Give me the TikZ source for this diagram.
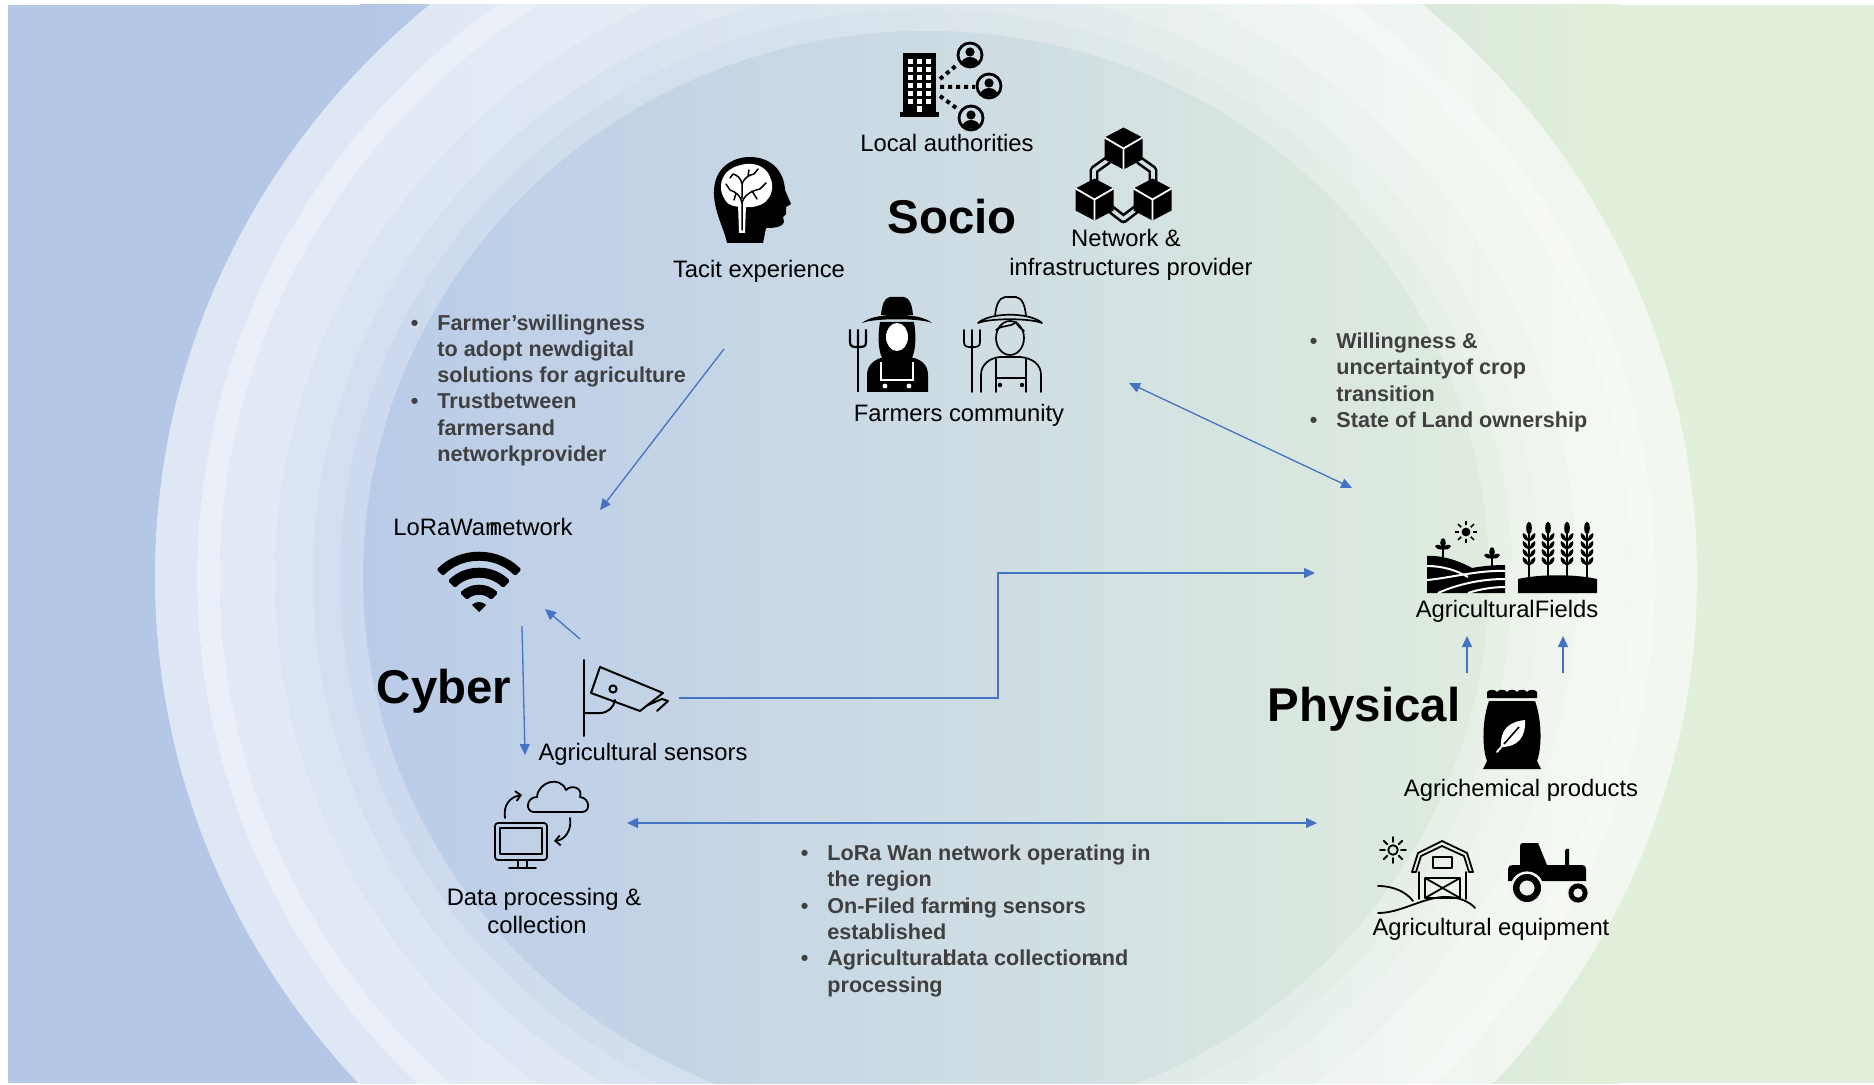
\documentclass[tikz,border=0pt]{standalone}
\usepackage{fontspec}
\setmainfont{Liberation Sans}
\usetikzlibrary{arrows.meta,calc}
\definecolor{bgblue}{HTML}{B4C7E7}
\definecolor{bggreen}{HTML}{E2EFDA}
\definecolor{linkblue}{HTML}{4472C4}
\definecolor{notegray}{HTML}{404040}
\definecolor{pipebg}{HTML}{D3E1E2}
\definecolor{wheelbg}{HTML}{EEF4EC}
\newcommand\notebullet{\llap{\textbullet\hspace{9.5pt}}}
% isometric block: centre x, centre y
\newcommand\netcube[2]{%
  \fill (#1,#2-21) -- (#1+19,#2-11) -- (#1+19,#2+11) -- (#1,#2+21) -- (#1-19,#2+11) -- (#1-19,#2-11) -- cycle;
  \draw[white,line width=0.9pt] (#1-19,#2-11) -- (#1,#2) -- (#1+19,#2-11) (#1,#2) -- (#1,#2+21);}
% small person badge: centre x, centre y
\newcommand\personbadge[2]{%
  \draw[line width=1.4pt] (#1,#2) circle[radius=6pt];
  \fill (#1,#2-3) circle[radius=2.3pt];
  \begin{scope}\clip (#1,#2) circle[radius=5.4pt];
  \fill (#1,#2+10) ellipse[x radius=4.6pt,y radius=4pt];\end{scope}}
% sprout: x, base y, top y
\newcommand\sprout[3]{%
  \draw[line width=0.9pt] (#1,#2) -- (#1,#3);
  \fill (#1,#3+3) .. controls (#1-2,#3-2) and (#1-6,#3-2) .. (#1-8,#3) .. controls (#1-6,#3+4) and (#1-2,#3+4) .. cycle;
  \fill (#1,#3+3) .. controls (#1+2,#3-2) and (#1+6,#3-2) .. (#1+8,#3) .. controls (#1+6,#3+4) and (#1+2,#3+4) .. cycle;
  \fill (#1,#3-3) ellipse[x radius=1.4pt,y radius=2.4pt];}
\begin{document}
\begin{tikzpicture}[x=0.5pt,y=-0.5pt,
  lbl/.style={font=\fontsize{11.9pt}{14.5pt}\selectfont,inner sep=0pt,anchor=base},
  ttl/.style={font=\fontsize{23.7pt}{28pt}\selectfont\bfseries,inner sep=0pt,anchor=base},
  note/.style={font=\fontsize{10.8pt}{13.15pt}\selectfont\bfseries,text=notegray,inner sep=0pt,align=left,anchor=base west},
  link/.style={draw=linkblue,line width=0.65pt,-{Triangle[length=5.5pt,width=5pt]}},
  dlink/.style={draw=linkblue,line width=0.65pt,{Triangle[length=5.5pt,width=5pt]}-{Triangle[length=5.5pt,width=5pt]}},
  icon/.style={line width=0.9pt,line cap=round,line join=round}]
\useasboundingbox (0,0) rectangle (1874,1085);
% ---------- background ----------
\fill[white] (0,0) rectangle (1874,1085);
\fill[bgblue] (8,5) rectangle (1874,1083);
\shade[left color=bgblue,right color=bggreen] (360,5) rectangle (1620,1083);
\fill[bggreen] (1619,5) rectangle (1874,1083);
\begin{scope}
\clip (8,5) rectangle (1874,1083);
\fill[white,fill opacity=0.58,even odd rule] (926,577) ellipse[x radius=385.5pt,y radius=374pt] (926,577) ellipse[x radius=364.5pt,y radius=353.6pt];
\fill[white,fill opacity=0.72,even odd rule] (926,577) ellipse[x radius=364.5pt,y radius=353.6pt] (926,577) ellipse[x radius=353pt,y radius=342.4pt];
\fill[white,fill opacity=0.62,even odd rule] (926,577) ellipse[x radius=353pt,y radius=342.4pt] (926,577) ellipse[x radius=325.5pt,y radius=315.7pt];
\fill[white,fill opacity=0.52,even odd rule] (926,577) ellipse[x radius=325.5pt,y radius=315.7pt] (926,577) ellipse[x radius=306.5pt,y radius=297.3pt];
\fill[white,fill opacity=0.42,even odd rule] (926,577) ellipse[x radius=306.5pt,y radius=297.3pt] (926,577) ellipse[x radius=293pt,y radius=284.2pt];
\fill[white,fill opacity=0.32,even odd rule] (926,577) ellipse[x radius=293pt,y radius=284.2pt] (926,577) ellipse[x radius=281.5pt,y radius=273.1pt];
\fill[white,fill opacity=0.08] (926,577) ellipse[x radius=281.5pt,y radius=273.1pt];
\end{scope}

% ---------- Socio: local authorities ----------
\fill (903,53) rectangle (936,117);
\fill (900,112) rectangle (939,117);
\foreach \cx in {908,917,926}{\foreach \cy in {59,67,75,83,91,99}{\fill[white] (\cx,\cy) rectangle ++(5,5);}}
\fill[white] (917,106) rectangle (922,112);
\draw[line width=2pt,dash pattern=on 2pt off 2pt] (940,79) -- (958,64) (940,87) -- (975,87) (940,96) -- (959,110);
\personbadge{970}{55}
\personbadge{989}{86}
\personbadge{971}{118}

% ---------- Socio: tacit experience (head with brain) ----------
\fill (727,243) .. controls (724,228) and (713,210) .. (714,190) .. controls (715,168) and (732,157) .. (750,157)
  .. controls (770,157) and (784,170) .. (785,190) -- (791,204) -- (786,207) -- (786,214) -- (783,217) -- (784,222)
  .. controls (783,227) and (775,228) .. (766,228) -- (763,243) -- cycle;
\fill[white] plot[smooth cycle,tension=0.75] coordinates {(721,187) (724,176) (731,169) (741,165) (752,164) (763,168) (770,177) (772,189) (767,200) (757,206) (744,207) (731,205) (724,198)};
\fill[white] (738,204) -- (746,204) -- (745,233) -- (739,233) -- cycle;
\draw[line width=0.75pt,line cap=round,line join=round] (742,230) -- (742,203) .. controls (741,196) and (736,192) .. (730,190)
  (742,203) .. controls (744,195) and (751,191) .. (760,189) (742,198) -- (742,184) .. controls (741,178) and (737,175) .. (733,174)
  (742,184) .. controls (744,178) and (749,175) .. (754,174) (736,193) -- (734,200) (730,190) -- (726,184)
  (752,191) -- (757,199) (760,189) -- (766,183) (754,174) -- (758,169) (733,174) -- (730,178) (748,176) -- (749,170);

% ---------- Socio: network & infrastructure provider ----------
\draw[line width=1.3pt,double=pipebg,double distance=1.8pt,line join=round]
  (1108,160) -- (1094,170) -- (1094,186) (1139,160) -- (1153,170) -- (1153,186) (1108,207) -- (1123.5,219) -- (1139,207);
\netcube{1123.5}{148.5}
\netcube{1094.5}{199.5}
\netcube{1152.5}{199.5}

% ---------- Socio: farmers community ----------
% black farmer
\draw[line width=1.3pt] (858,346) -- (858,392);
\draw[line width=1.1pt,line cap=round] (850,330) -- (850,342) .. controls (850,347) and (853,347) .. (858,347) .. controls (863,347) and (866,347) .. (866,342) -- (866,330) (858,330) -- (858,347);
\fill (867,392) -- (867,375) .. controls (867,364) and (876,358) .. (886,357) -- (908,357) .. controls (920,358) and (928,364) .. (928,375) -- (928,392) -- cycle;
\draw[white,line width=0.8pt] (881,362) -- (881,380) -- (913,380) -- (913,362);
\fill[white] (885,386) circle[radius=1.2pt] (909,386) circle[radius=1.2pt];
\fill (880,322) .. controls (877,340) and (879,355) .. (884,361) -- (910,361) .. controls (915,355) and (917,340) .. (914,322) -- cycle;
\fill[white] (897,337) ellipse[x radius=5.5pt,y radius=7pt];
\fill (881,315) .. controls (882,305) and (884,298) .. (890,297) -- (904,297) .. controls (910,298) and (912,305) .. (913,315) -- cycle;
\fill (862,323) .. controls (874,312) and (920,312) .. (932,323) .. controls (920,318) and (874,318) .. cycle;
% outlined farmer
\begin{scope}[icon,line width=0.85pt]
\draw (972,346) -- (972,392);
\draw (964,330) -- (964,342) .. controls (964,347) and (967,347) .. (972,347) .. controls (977,347) and (980,347) .. (980,342) -- (980,330) (972,330) -- (972,347);
\draw (981,392) -- (981,375) .. controls (981,364) and (990,358) .. (1000,357) -- (1020,357) .. controls (1032,358) and (1041,364) .. (1041,375) -- (1041,392);
\draw (996,392) -- (996,378) -- (1026,378) -- (1026,392) (996,378) -- (996,359) (1026,378) -- (1026,359);
\fill (1000,385) circle[radius=1.1pt] (1022,385) circle[radius=1.1pt];
\draw (1010,338) ellipse[x radius=7pt,y radius=8.5pt];
\draw (996,330) .. controls (1003,324) and (1010,328) .. (1016,322) .. controls (1018,327) and (1022,329) .. (1024,331);
\draw (995,316) .. controls (996,305) and (999,298) .. (1005,297) -- (1016,297) .. controls (1022,298) and (1025,305) .. (1026,316);
\draw (978,323) .. controls (990,312) and (1030,312) .. (1042,323) .. controls (1030,318) and (990,318) .. cycle;
\end{scope}

% ---------- Cyber: LoRaWAN (wifi) ----------
\coordinate (wf) at (479,612);
\fill (wf) -- ($(wf)+(45:5pt)$) arc[start angle=45,end angle=135,radius=5pt] -- cycle;
\foreach \ro/\ri in {13.5/8.5,22/17,30/25.5}{
  \fill[rounded corners=0.8pt] ($(wf)+(45:\ro pt)$) arc[start angle=45,end angle=135,radius=\ro pt] -- ($(wf)+(135:\ri pt)$) arc[start angle=135,end angle=45,radius=\ri pt] -- cycle;}

% ---------- Cyber: agricultural sensor (camera) ----------
\begin{scope}[icon,line width=1pt]
\draw (584,660) -- (584,736);
\draw (600,667) -- (663,693) -- (640,711) -- (591,693) -- cycle;
\draw (648,705) -- (662,699) -- (668,701) -- (657,711);
\draw (613,689) circle[radius=1.8pt];
\draw (584,713) -- (600,713) .. controls (608,713) and (614,707) .. (615,700);
\end{scope}

% ---------- Cyber: data processing & collection ----------
\begin{scope}[icon]
\draw (534,812) .. controls (525,812) and (526,797) .. (537,797) .. controls (538,782) and (560,775) .. (566,790)
  .. controls (572,784) and (583,788) .. (580,797) .. controls (590,798) and (591,812) .. (582,812) -- cycle;
\draw[rounded corners=1.5pt] (495,823) rectangle (547,860);
\draw (500,828) rectangle (542,854);
\draw (518,860) -- (518,868) (527,860) -- (527,868) (509,868) -- (536,868);
\draw[-{Straight Barb[length=2.5pt,width=5pt]}] (505,818) .. controls (503,805) and (510,797) .. (522,795);
\draw[-{Straight Barb[length=2.5pt,width=5pt]}] (570,818) .. controls (572,830) and (565,840) .. (554,841);
\end{scope}

% ---------- Physical: agricultural fields ----------
\fill (1466,532) circle[radius=2.2pt];
\foreach \a in {0,45,...,315}{\draw[line width=0.8pt] ($(1466,532)+(\a:3.4pt)$) -- ($(1466,532)+(\a:5.6pt)$);}
\sprout{1443}{557}{546}
\sprout{1492}{566}{555}
\fill (1427,556) .. controls (1440,555) and (1458,560) .. (1472,568) .. controls (1482,566) and (1495,565) .. (1505,565) -- (1505,593) -- (1427,593) -- cycle;
\draw[white,line width=1pt] (1427,566) .. controls (1442,566) and (1456,570) .. (1468,577)
  (1427,580) .. controls (1450,578) and (1478,570) .. (1505,571)
  (1438,593) .. controls (1458,584) and (1482,579) .. (1505,579)
  (1468,593) .. controls (1480,589) and (1494,587) .. (1505,587);
\fill (1518,593) -- (1518,579) .. controls (1540,574) and (1575,574) .. (1597,579) -- (1597,593) -- cycle;
\foreach \wx in {1529,1548,1567,1587}{
  \draw[line width=0.9pt] (\wx,578) -- (\wx,530);
  \fill (\wx,528) ellipse[x radius=1.4pt,y radius=3.2pt];
  \foreach \wy in {539,547,555,563}{
    \fill (\wx-1,\wy+2) .. controls (\wx-6,\wy+1) and (\wx-7,\wy-4) .. (\wx-6,\wy-6) .. controls (\wx-2,\wy-4) and (\wx-1,\wy-2) .. cycle;
    \fill (\wx+1,\wy+2) .. controls (\wx+6,\wy+1) and (\wx+7,\wy-4) .. (\wx+6,\wy-6) .. controls (\wx+2,\wy-4) and (\wx+1,\wy-2) .. cycle;}}

% ---------- Physical: agrichemical products (bag) ----------
\fill (1487,698) -- (1487,692) \foreach \k in {0,...,4}{ .. controls (1489+10*\k,689) and (1495+10*\k,689) .. (1497+10*\k,692)} -- (1537,698) -- cycle;
\fill (1489,701) -- (1535,701) .. controls (1542,720) and (1542,748) .. (1537,761) -- (1541,769) -- (1483,769) -- (1487,761) .. controls (1482,748) and (1482,720) .. (1489,701) -- cycle;
\fill[white] (1501,747) .. controls (1500,730) and (1508,722) .. (1525,720) .. controls (1526,737) and (1518,747) .. (1501,747) -- cycle;
\draw[line width=0.8pt] (1504,744) -- (1519,727);
\draw[white,line width=0.9pt,line cap=round] (1497,752) -- (1503,745);

% ---------- Physical: agricultural equipment (barn, tractor) ----------
\begin{scope}[icon]
\draw (1393,850) circle[radius=2.4pt];
\foreach \a in {0,45,...,315}{\draw ($(1393,850)+(\a:4pt)$) -- ($(1393,850)+(\a:6.5pt)$);}
\draw (1412,872) -- (1418,853) -- (1442,841) -- (1467,853) -- (1473,872) -- (1469,872) -- (1464,856) -- (1442,846) -- (1421,856) -- (1416,872) -- cycle;
\draw (1419,872) -- (1419,899) (1466,872) -- (1466,899);
\draw (1433,857) rectangle (1452,868);
\draw (1425,878) rectangle (1460,898) (1425,878) -- (1460,898) (1425,898) -- (1460,878);
\draw (1378,886) .. controls (1395,886) and (1407,893) .. (1413,901);
\draw (1378,913) .. controls (1400,913) and (1420,899) .. (1442,897) .. controls (1458,896) and (1470,902) .. (1475,908);
\end{scope}
\fill (1508,881) -- (1508,869) .. controls (1508,866) and (1510,865) .. (1513,865) -- (1520,865) -- (1520,846) .. controls (1520,844) and (1521,843) .. (1523,843) -- (1538,843) -- (1547,865) -- (1582,865) .. controls (1585,865) and (1586,867) .. (1586,869) -- (1586,881) -- cycle;
\fill (1565,866) -- (1565,851) .. controls (1565,849) and (1567,848) .. (1569,849) -- (1569,866) -- cycle;
\fill[wheelbg] (1527,888) circle[radius=8.3pt] (1578,893) circle[radius=5.7pt];
\fill[even odd rule] (1527,888) circle[radius=7pt] (1527,888) circle[radius=3.8pt];
\fill[even odd rule] (1578,893) circle[radius=4.8pt] (1578,893) circle[radius=2.4pt];

% ---------- labels ----------
\node[lbl] (locLbl) at (947,151.5) {Local authorities};
\node[lbl] (tacitLbl) at (759,277.5) {Tacit experience};
\node[ttl] (socio) at (952,234) {Socio};
\node[lbl] (netLblA) at (1126,246.5) {Network \&};
\node[lbl] (netLblB) at (1131,275.5) {infrastructures provider};
\node[lbl] (farmLbl) at (959,421.5) {Farmers community};
\node[lbl] (loraLbl) at (483,535.5) {LoRaWan\hspace{-0.66em} network};
\node[ttl] (cyber) at (444,703) {Cyber};
\node[lbl] (sensLbl) at (643,760.5) {Agricultural sensors};
\node[lbl] (dataLblA) at (544,905.5) {Data processing \&};
\node[lbl] (dataLblB) at (537,933.5) {collection};
\node[lbl] (fieldsLbl) at (1507,617) {AgriculturalFields};
\node[ttl] (physical) at (1364,721) {Physical};
\node[lbl] (chemLbl) at (1521,796) {Agrichemical products};
\node[lbl] (equipLbl) at (1491,935) {Agricultural equipment};

% ---------- notes (anchored at the baseline of their last line) ----------
\node[note] (noteSC) at (437,461.5) {\notebullet Farmer’swillingness\\to adopt newdigital\\solutions for agriculture\\\notebullet Trustbetween\\farmersand\\networkprovider};
\node[note] (noteSP) at (1336,427.5) {\notebullet Willingness \&\\uncertaintyof crop\\transition\\\notebullet State of Land ownership};
\node[note] (noteCP) at (827,992) {\notebullet LoRa Wan network operating in\\the region\\\notebullet On-Filed farm\kern-0.15em ing sensors\\established\\\notebullet Agricultural\kern-0.23em data collection\kern-0.23em and\\processing};

% ---------- connectors ----------
\coordinate (tacitOut) at (724,349);
\coordinate (loraIn) at (600,510);
\coordinate (farmEnd) at (1129,383);
\coordinate (fieldsEnd) at (1352,488);
\coordinate (sensUp) at (580,639);
\coordinate (wifiIn) at (545,609);
\coordinate (wifiOut) at (522,626);
\coordinate (dataIn) at (525,755);
\coordinate (camOut) at (679,698);
\coordinate (jog) at (998,573);
\coordinate (fieldsIn) at (1315,573);
\coordinate (dataEnd) at (627,823);
\coordinate (physEnd) at (1317,823);
\coordinate (chemOutA) at (1467,673);
\coordinate (fieldsInA) at (1467,636);
\coordinate (chemOutB) at (1563,673);
\coordinate (fieldsInB) at (1563,636);
\draw[link] (tacitOut) -- (loraIn);
\draw[dlink] (farmEnd) -- (fieldsEnd);
\draw[link] (sensUp) -- (wifiIn);
\draw[link] (wifiOut) -- (dataIn);
\draw[link] (camOut) -| (jog) -- (fieldsIn);
\draw[dlink] (dataEnd) -- (physEnd);
\draw[link] (chemOutA) -- (fieldsInA);
\draw[link] (chemOutB) -- (fieldsInB);
\end{tikzpicture}
\end{document}
